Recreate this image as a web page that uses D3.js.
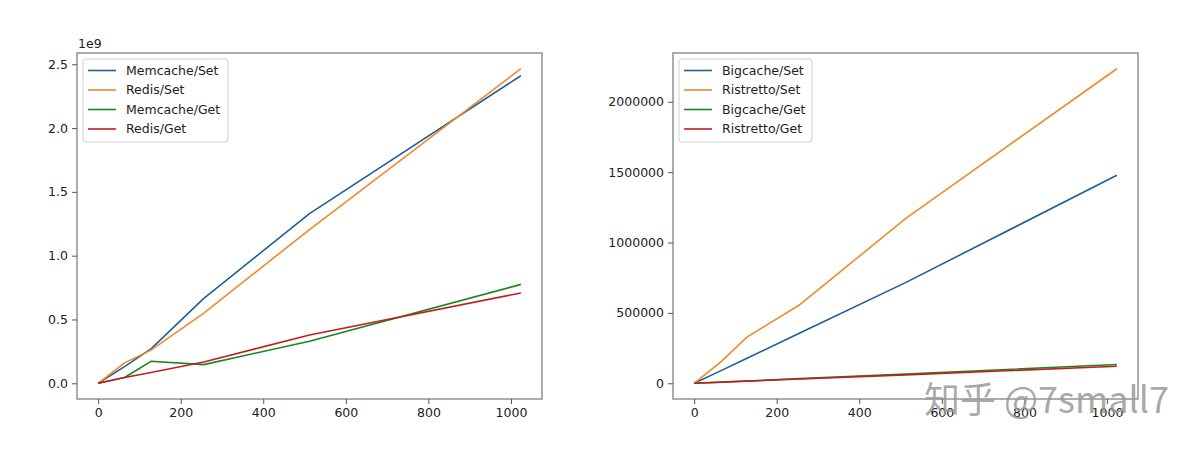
<!DOCTYPE html>
<html><head><meta charset="utf-8">
<script src="https://cdn.jsdelivr.net/npm/d3@7"></script>
<style>
html,body{margin:0;padding:0;background:#fff;}
svg{display:block;font-family:"DejaVu Sans",sans-serif;}
</style></head>
<body><svg id="c" width="1200" height="450"></svg>
<script>
// ---- data ----
const sizes = [0, 64, 128, 256, 512, 1024];

const leftNames = ["Memcache/Set", "Redis/Set", "Memcache/Get", "Redis/Get"];
const memcacheSet = [0, 0.13e9, 0.27e9, 0.665e9, 1.33e9, 2.41e9];
const redisSet    = [0, 0.16e9, 0.26e9, 0.55e9, 1.205e9, 2.465e9];
const memcacheGet = [0, 0.045e9, 0.172e9, 0.146e9, 0.33e9, 0.775e9];
const redisGet    = [0, 0.045e9, 0.085e9, 0.167e9, 0.378e9, 0.708e9];

const rightNames = ["Bigcache/Set", "Ristretto/Set", "Bigcache/Get", "Ristretto/Get"];
const bigcacheSet  = [0, 88000, 178000, 357000, 715000, 1478000];
const ristrettoSet = [0, 150000, 328000, 558000, 1170000, 2235000];
const bigcacheGet  = [0, 8200, 16500, 33000, 66000, 133000];
const ristrettoGet = [0, 7500, 15000, 30000, 60000, 121000];

const leftYTicks = [0, 0.5e9, 1.0e9, 1.5e9, 2.0e9, 2.5e9];
const rightYTicks = [0, 500000, 1000000, 1500000, 2000000];
const xTicks = [0, 200, 400, 600, 800, 1000];

const colors = ["#1f5f96", "#f0892a", "#17891a", "#c41c22"];

const svg = d3.select("#c");

function panel(opts) {
  const {left, right, top, bottom, series, names, yTicks, yFmt, offsetText} = opts;
  const g = svg.append("g");
  const x = d3.scaleLinear().domain([-51.2, 1075.2]).range([left, right]);
  const allY = series.flat();
  const ymax = d3.max(allY), ymin = 0;
  const pad = (ymax - ymin) * 0.05;
  const y = d3.scaleLinear().domain([ymin - pad, ymax + pad]).range([bottom, top]);

  // lines
  const line = d3.line().x((d, i) => x(sizes[i])).y(d => y(d));
  series.forEach((s, k) => {
    g.append("path").datum(s).attr("d", line)
      .attr("fill", "none").attr("stroke", colors[k]).attr("stroke-width", 1.6)
      .attr("stroke-linejoin", "round");
  });

  // frame
  g.append("rect").attr("x", left).attr("y", top)
    .attr("width", right - left).attr("height", bottom - top)
    .attr("fill", "none").attr("stroke", "#8a8a8a").attr("stroke-width", 1.4);

  // axes
  const xa = g.append("g").attr("transform", `translate(0,${bottom})`)
    .call(d3.axisBottom(x).tickValues(xTicks).tickFormat(d => String(d))
      .tickSizeOuter(0).tickSize(5).tickPadding(4));
  const ya = g.append("g").attr("transform", `translate(${left},0)`)
    .call(d3.axisLeft(y).tickValues(yTicks).tickFormat(yFmt).tickSizeOuter(0).tickSize(5).tickPadding(4));
  [xa, ya].forEach(a => {
    a.select(".domain").remove();
    a.selectAll(".tick line").attr("stroke", "#555").attr("stroke-width", 1);
    a.selectAll(".tick text").attr("fill", "#222").style("font-size", "12.5px")
      .style("font-family", "DejaVu Sans");
  });

  if (offsetText) {
    g.append("text").attr("x", left + 1).attr("y", top - 5).text(offsetText)
      .attr("fill", "#222").style("font-size", "12.5px");
  }

  // legend
  const lx = left + 6, ly = top + 6;
  const lg = g.append("g");
  lg.append("rect").attr("x", lx).attr("y", ly).attr("width", opts.legendW).attr("height", 83)
    .attr("rx", 3).attr("fill", "#fff").attr("fill-opacity", 0.85)
    .attr("stroke", "#d0d0d0").attr("stroke-width", 1);
  names.forEach((n, k) => {
    const yy = ly + 11.5 + k * 19.5;
    lg.append("line").attr("x1", lx + 5).attr("x2", lx + 33).attr("y1", yy).attr("y2", yy)
      .attr("stroke", colors[k]).attr("stroke-width", 1.6);
    lg.append("text").attr("x", lx + 43).attr("y", yy).attr("dy", "0.35em")
      .text(n).attr("fill", "#222").style("font-size", "12.5px");
  });
  return g;
}

panel({left: 77, right: 542, top: 53, bottom: 399,
  series: [memcacheSet, redisSet, memcacheGet, redisGet], names: leftNames,
  yTicks: leftYTicks, yFmt: d => (d / 1e9).toFixed(1), offsetText: "1e9", legendW: 145});

panel({left: 673, right: 1138, top: 53, bottom: 399,
  series: [bigcacheSet, ristrettoSet, bigcacheGet, ristrettoGet], names: rightNames,
  yTicks: rightYTicks, yFmt: d => String(d), offsetText: null, legendW: 133});

// watermark (overlaps the axis labels in the reference too)
svg.append("text").attr("x", 924).attr("y", 413).text("知乎 @7small7")
  .attr("fill", "#9a9a9a").attr("fill-opacity", 0.85)
  .style("font-family", "Noto Sans CJK SC").style("font-size", "36px");
</script></body></html>
